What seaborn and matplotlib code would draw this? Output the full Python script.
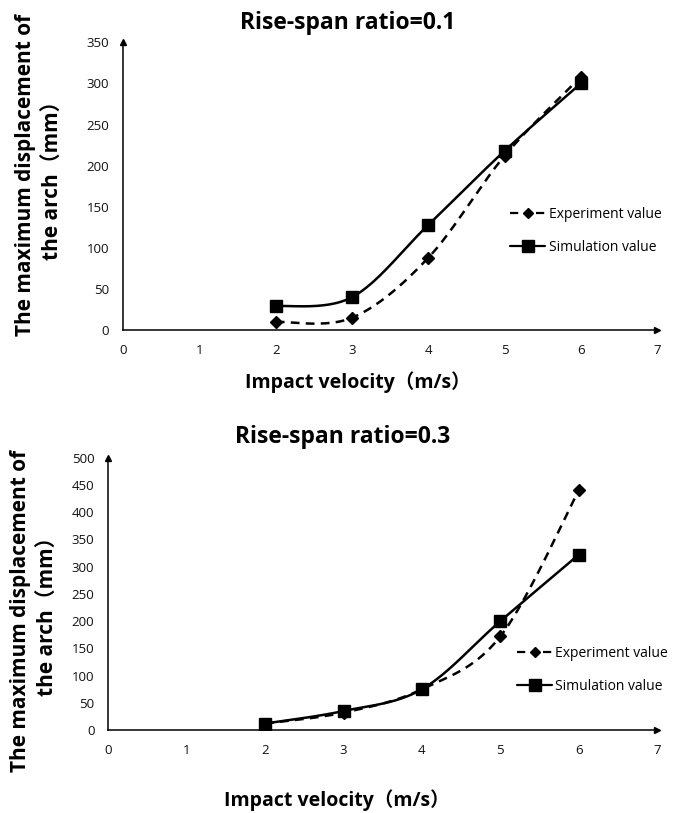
import numpy as np
import pandas as pd
import matplotlib
matplotlib.use("Agg")
import matplotlib.pyplot as plt
import seaborn as sns
from matplotlib.lines import Line2D

# ----------------------------------------------------
# Data
# ----------------------------------------------------
velocity = [2, 3, 4, 5, 6]
exp_01 = [10, 15, 88, 212, 308]
sim_01 = [29, 40, 128, 218, 300]
exp_03 = [12, 32, 75, 172, 440]
sim_03 = [12, 35, 75, 200, 322]

titles = ["Rise-span ratio=0.1", "Rise-span ratio=0.3"]
x_ticks = [0, 1, 2, 3, 4, 5, 6, 7]
y_ticks_01 = [0, 50, 100, 150, 200, 250, 300, 350]
y_ticks_03 = [0, 50, 100, 150, 200, 250, 300, 350, 400, 450, 500]
legend_labels = ["Experiment value", "Simulation value"]

sns.set_style("white")
plt.rcParams['font.family'] = ['Open Sans', 'Noto Sans CJK SC', 'DejaVu Sans']
plt.rcParams['text.color'] = 'black'


def smooth(x, y, n=40):
    # Excel style smoothed line (Catmull-Rom through the points)
    pts = np.column_stack([x, y]).astype(float)
    p = np.vstack([pts[0], pts, pts[-1]])
    t = np.linspace(0, 1, n)[:, None]
    segs = []
    for i in range(1, len(p) - 2):
        p0, p1, p2, p3 = p[i - 1], p[i], p[i + 1], p[i + 2]
        seg = 0.5 * (2 * p1 + (-p0 + p2) * t
                     + (2 * p0 - 5 * p1 + 4 * p2 - p3) * t ** 2
                     + (-p0 + 3 * p1 - 3 * p2 + p3) * t ** 3)
        segs.append(seg)
    out = np.vstack(segs)
    return pd.DataFrame({"x": out[:, 0], "y": out[:, 1]})


def draw_panel(ax, exp, sim, yticks, sq, dm):
    e = smooth(velocity, exp)
    s = smooth(velocity, sim)
    sns.lineplot(data=e, x="x", y="y", ax=ax, color="black", lw=1.8,
                 linestyle=(0, (3.5, 2.5)), sort=False, estimator=None)
    sns.lineplot(data=s, x="x", y="y", ax=ax, color="black", lw=1.8,
                 sort=False, estimator=None)
    ax.plot(velocity, exp, "D", color="black", ms=dm, zorder=4)
    ax.plot(velocity, sim, "s", color="black", ms=sq, zorder=4)

    ax.set_xlim(0, 7)
    ax.set_ylim(0, yticks[-1])
    ax.set_xticks(x_ticks)
    ax.set_yticks(yticks)
    ax.set_xlabel("")
    ax.set_ylabel("")
    ax.tick_params(length=0, labelsize=9.5, labelcolor="#111", pad=10)
    for sp in ["top", "right"]:
        ax.spines[sp].set_visible(False)
    for sp in ["left", "bottom"]:
        ax.spines[sp].set_color("black")
        ax.spines[sp].set_linewidth(1.1)
    # arrow heads at axis ends
    ax.plot(1, 0, ">", color="black", ms=5, transform=ax.transAxes, clip_on=False)
    ax.plot(0, 1, "^", color="black", ms=5, transform=ax.transAxes, clip_on=False)

    handles = [
        Line2D([], [], color="black", lw=1.6, linestyle=(0, (3.7, 8.0)),
               marker="D", ms=5),
        Line2D([], [], color="black", lw=1.6, marker="s", ms=8),
    ]
    return handles


def add_legend(ax, handles, anchor):
    ax.legend(handles, legend_labels, frameon=False, loc="center left",
              bbox_to_anchor=anchor, fontsize=10, borderaxespad=0,
              borderpad=0, handlelength=2.5, handletextpad=0.25,
              labelspacing=1.3)


fig = plt.figure(figsize=(6.81, 8.13), dpi=100)

# top panel
ax1 = fig.add_axes([0.181, 0.594, 0.784, 0.354])
h = draw_panel(ax1, exp_01, sim_01, y_ticks_01, sq=9, dm=6)
add_legend(ax1, h, (0.725, 0.345))

# bottom panel
ax2 = fig.add_axes([0.159, 0.102, 0.806, 0.335])
h = draw_panel(ax2, exp_03, sim_03, y_ticks_03, sq=8, dm=6)
add_legend(ax2, h, (0.745, 0.222))

# titles and axis labels
fig.text(0.511, 0.972, titles[0], ha="center", va="center",
         fontsize=16.5, fontweight="bold")
fig.text(0.503, 0.462, titles[1], ha="center", va="center",
         fontsize=16.5, fontweight="bold")
fig.text(0.526, 0.530, "Impact velocity（m/s）", ha="center", va="center",
         fontsize=14, fontweight="bold")
fig.text(0.494, 0.016, "Impact velocity（m/s）", ha="center", va="center",
         fontsize=14, fontweight="bold")
for yc, xc in [(0.785, 0.057), (0.248, 0.05)]:
    fig.text(xc, yc, "The maximum displacement of\nthe arch（mm）", rotation=90,
             ha="center", va="center", fontsize=15, fontweight="bold",
             multialignment="center", linespacing=1.4)

fig.savefig("out.png", dpi=100)
